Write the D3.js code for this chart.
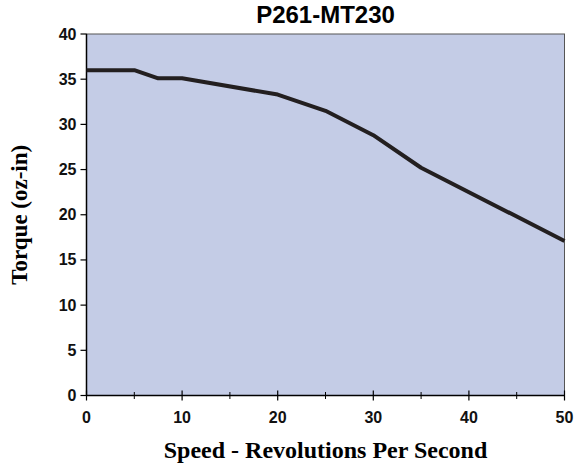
<!DOCTYPE html>
<html>
<head>
<meta charset="utf-8">
<script src="https://cdn.jsdelivr.net/npm/d3@7"></script>
<style>
  body { margin: 0; background: #fff; }
  svg { display: block; }
</style>
</head>
<body>
<div id="chart"></div>
<script>
const speed = [0, 5, 7.5, 10, 20, 25, 30, 35, 50]
const torque = [36, 36, 35.1, 35.1, 33.3, 31.5, 28.8, 25.2, 17.1]
const xTicks = [0, 10, 20, 30, 40, 50]
const xMinor = [5, 15, 25, 35, 45]
const yTicks = [0, 5, 10, 15, 20, 25, 30, 35, 40]

let width = 575, height = 468
let margin = {top: 34, right: 10.5, bottom: 72.5, left: 86.5}
let w = width - margin.left - margin.right,
    h = height - margin.top - margin.bottom

var svg = d3.select("#chart").append("svg")
    .attr("width", width).attr("height", height)

var g = svg.append("g")
    .attr("transform", "translate(" + margin.left + "," + margin.top + ")")

var x = d3.scaleLinear().domain([0, 50]).range([0, w])
var y = d3.scaleLinear().domain([0, 40]).range([h, 0])

// plot background
g.append("rect")
    .attr("x", 0).attr("y", 0).attr("width", w).attr("height", h)
    .attr("fill", "#c4cce6")
    .attr("stroke", "#555").attr("stroke-width", 1)

// x axis - ticks cross the line
let xAxis = g.append("g").attr("transform", "translate(0," + h + ")")
xAxis.append("line").attr("x1", 0).attr("x2", w).attr("stroke", "#000").attr("stroke-width", 1.5)
xAxis.selectAll(".major").data(xTicks).enter().append("line")
    .attr("x1", d => x(d)).attr("x2", d => x(d))
    .attr("y1", -5).attr("y2", 5)
    .attr("stroke", "#000").attr("stroke-width", 1.2)
xAxis.selectAll(".minor").data(xMinor).enter().append("line")
    .attr("x1", d => x(d)).attr("x2", d => x(d))
    .attr("y1", -3.5).attr("y2", 3.5)
    .attr("stroke", "#000").attr("stroke-width", 1)
xAxis.selectAll("text").data(xTicks).enter().append("text")
    .attr("x", d => x(d)).attr("y", 27.5)
    .attr("text-anchor", "middle")
    .style("font", "bold 16px 'Liberation Sans', Arial, sans-serif")
    .attr("fill", "#111")
    .text(d => d)

// y axis - ticks point outwards
let yAxis = g.append("g")
yAxis.append("line").attr("y1", 0).attr("y2", h).attr("stroke", "#000").attr("stroke-width", 1.5)
yAxis.selectAll(".tick").data(yTicks).enter().append("line")
    .attr("x1", -6).attr("x2", 0)
    .attr("y1", d => y(d)).attr("y2", d => y(d))
    .attr("stroke", "#000").attr("stroke-width", 1.2)
yAxis.selectAll("text").data(yTicks).enter().append("text")
    .attr("x", -10).attr("y", d => y(d) + 5.5)
    .attr("text-anchor", "end")
    .style("font", "bold 16px 'Liberation Sans', Arial, sans-serif")
    .attr("fill", "#111")
    .text(d => d)

// torque curve
let line = d3.line().x((d, i) => x(speed[i])).y(d => y(d))
g.append("path")
    .datum(torque)
    .attr("d", line)
    .attr("fill", "none")
    .attr("stroke", "#231f20")
    .attr("stroke-width", 4)
    .attr("stroke-linejoin", "round")

// title
svg.append("text")
    .attr("x", margin.left + w / 2).attr("y", 23)
    .attr("text-anchor", "middle")
    .style("font", "bold 24px 'Liberation Sans', Arial, sans-serif")
    .text("P261-MT230")

// axis titles
svg.append("text")
    .attr("x", margin.left + w / 2).attr("y", 458)
    .attr("text-anchor", "middle")
    .style("font", "bold 24px 'Liberation Serif', 'Times New Roman', serif")
    .text("Speed - Revolutions Per Second")

svg.append("text")
    .attr("transform", "translate(27," + (margin.top + h / 2) + ") rotate(-90)")
    .attr("text-anchor", "middle")
    .style("font", "bold 23px 'Liberation Serif', 'Times New Roman', serif")
    .text("Torque (oz-in)")
</script>
</body>
</html>
